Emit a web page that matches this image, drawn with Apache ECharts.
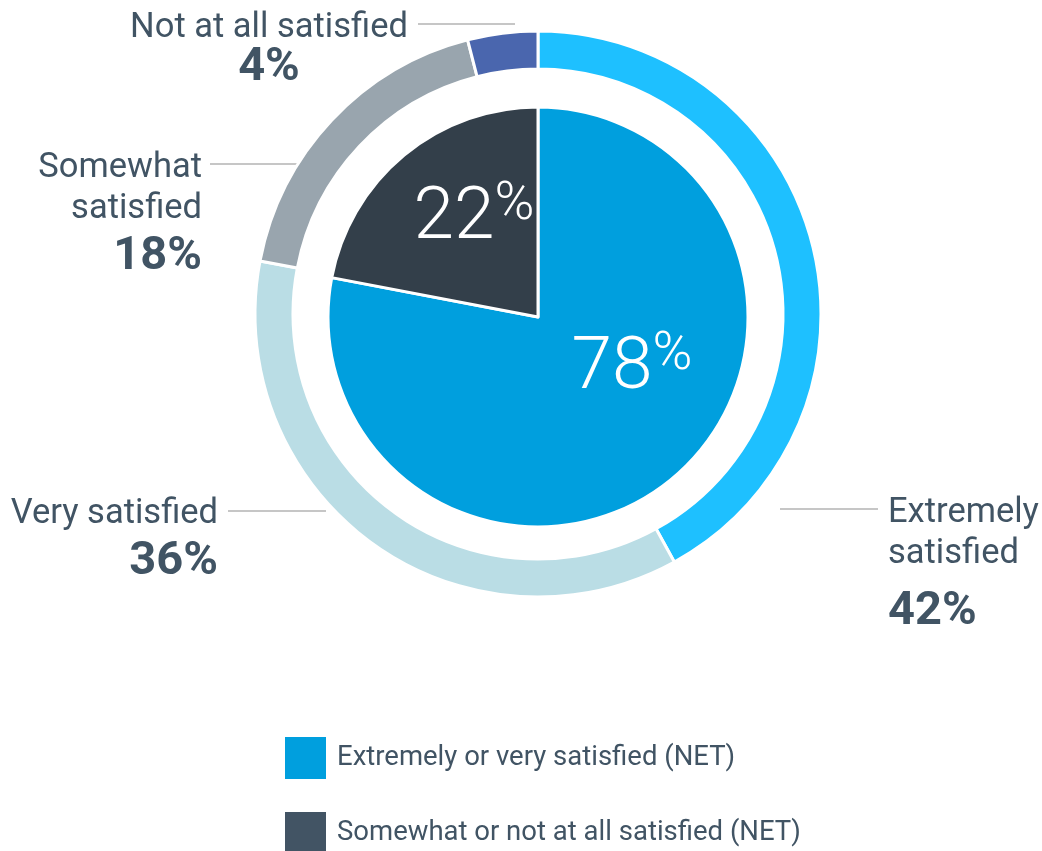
<!DOCTYPE html>
<html>
<head>
<meta charset="utf-8">
<script src="https://cdn.jsdelivr.net/npm/echarts@6/dist/echarts.min.js"></script>
<style>
  html, body { margin: 0; padding: 0; background: #fff; }
  #main { width: 1042px; height: 851px; }
</style>
</head>
<body>
<div id="main"></div>
<script>
// outer ring - detail
var ringNames = ['Extremely satisfied', 'Very satisfied', 'Somewhat satisfied', 'Not at all satisfied'];
var ringLabels = ['Extremely\nsatisfied', 'Very satisfied', 'Somewhat\nsatisfied', 'Not at all satisfied'];
var ringValues = [42, 36, 18, 4];
// inner pie - NET
var netNames = ['Extremely or very satisfied (NET)', 'Somewhat or not at all satisfied (NET)'];
var netValues = [78, 22];

var ringColors = ['#1ec0ff', '#badde5', '#99a5ae', '#4a66ae'];
var netColors = ['#009fde', '#333f4a'];
var legendColors = ['#009fde', '#425464'];
var textColor = '#415464';
var font = 'Roboto, "Liberation Sans", sans-serif';

// where each outer label sits: block top, align, line height of the % row, leader line [x1, x2, y]
var ringLabelPos = [
    { x: 888, y: 493, align: 'left', vh: 74, line: [780, 878, 509] },
    { x: 218, y: 494, align: 'right', vh: 54, line: [228, 326, 511] },
    { x: 202, y: 148, align: 'right', vh: 54, line: [210, 302, 164] },
    { x: 269, y: 8, align: 'center', vh: 38, line: [418, 515, 24] }
];
var netLabelPos = [
    { x: 632, y: 370 },
    { x: 474, y: 220 }
];

var ringRich = {
    n: { fontFamily: font, fontSize: 34.5, lineHeight: 41, color: textColor }
};
ringLabelPos.forEach(function (pos, i) {
    ringRich['v' + i] = { fontFamily: font, fontSize: 47, fontWeight: 'bold', lineHeight: pos.vh, color: textColor };
});

var chart = echarts.init(document.getElementById('main'));

var option = {
    backgroundColor: '#fff',
    legend: {
        orient: 'vertical',
        left: 283,
        top: 735,
        height: 160,
        padding: 0,
        icon: 'rect',
        itemWidth: 43,
        itemHeight: 44,
        itemGap: 29,
        selectedMode: false,
        textStyle: { fontFamily: font, fontSize: 27.5, color: textColor, padding: [0, 0, 0, 5] },
        data: netNames.map(function (n, i) {
            return { name: n, itemStyle: { color: legendColors[i] } };
        })
    },
    series: [
        {
            name: 'detail',
            type: 'pie',
            center: [538, 314],
            radius: [245, 283],
            startAngle: 90,
            avoidLabelOverlap: false,
            silent: true,
            itemStyle: { borderColor: '#fff', borderWidth: 3 },
            label: {
                show: true,
                position: 'outside',
                formatter: function (p) {
                    var lines = ringLabels[p.dataIndex].split('\n').map(function (l) {
                        return '{n|' + l + '}';
                    });
                    return lines.join('\n') + '\n{v' + p.dataIndex + '|' + p.value + '%}';
                },
                rich: ringRich
            },
            labelLine: { show: true, lineStyle: { color: '#b3b3b3', width: 1.5 } },
            labelLayout: function (p) {
                var pos = ringLabelPos[p.dataIndex];
                var ln = pos.line;
                return {
                    x: pos.x,
                    y: pos.y,
                    align: pos.align,
                    verticalAlign: 'top',
                    labelLinePoints: [[ln[0], ln[2]], [ln[1], ln[2]], [ln[1], ln[2]]]
                };
            },
            data: ringValues.map(function (v, i) {
                return { name: ringNames[i], value: v, itemStyle: { color: ringColors[i] } };
            })
        },
        {
            name: 'net',
            type: 'pie',
            center: [538, 317],
            radius: [0, 210],
            startAngle: 90,
            silent: true,
            itemStyle: { borderColor: '#fff', borderWidth: 3 },
            label: {
                show: true,
                position: 'inside',
                formatter: function (p) {
                    return '{a|' + p.value + '}{p|%}';
                },
                rich: {
                    a: { fontFamily: font, fontSize: 73, fontWeight: 300, color: '#fff', lineHeight: 80 },
                    p: { fontFamily: font, fontSize: 54, fontWeight: 300, color: '#fff', padding: [0, 0, 30, 0] }
                }
            },
            labelLine: { show: false },
            labelLayout: function (p) {
                var pos = netLabelPos[p.dataIndex];
                return { x: pos.x, y: pos.y, align: 'center', verticalAlign: 'middle' };
            },
            data: netValues.map(function (v, i) {
                return { name: netNames[i], value: v, itemStyle: { color: netColors[i] } };
            })
        }
    ]
};

chart.setOption(option);
</script>
</body>
</html>
